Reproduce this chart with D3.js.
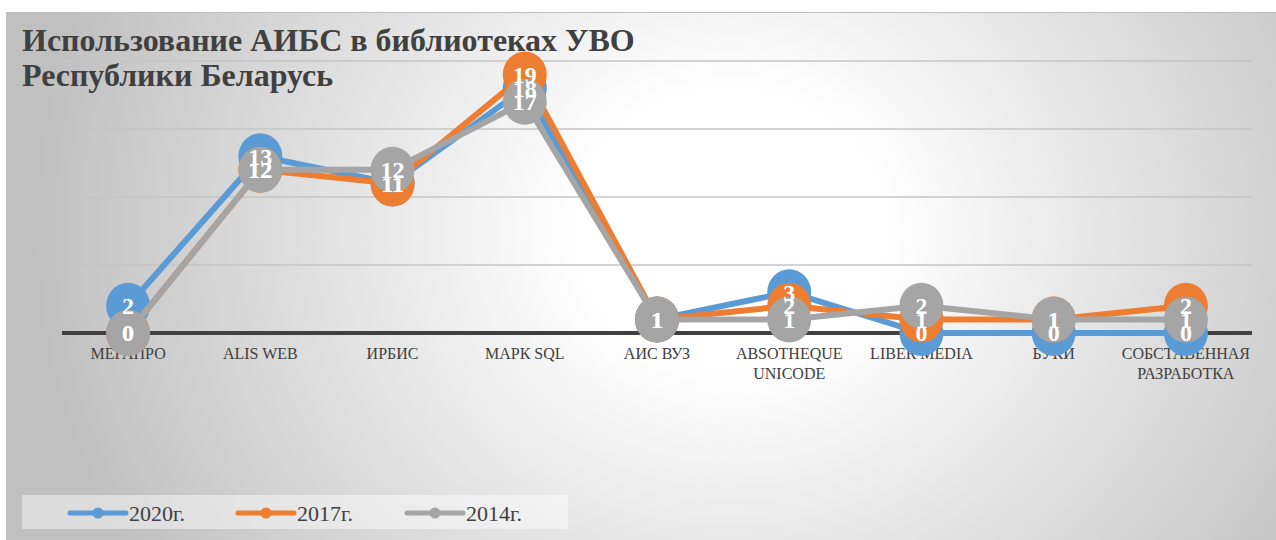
<!DOCTYPE html>
<html>
<head>
<meta charset="utf-8">
<script src="https://cdn.jsdelivr.net/npm/d3@7"></script>
<style>
    body { margin: 0; background: #ffffff; }
    svg { display: block; }
</style>
</head>
<body>
<script>
//chart data
var categories = ["МЕГАПРО", "ALIS WEB", "ИРБИС", "МАРК SQL", "АИС ВУЗ", "ABSOTHEQUE UNICODE", "LIBER MEDIA", "БУКИ", "СОБСТАВЕННАЯ РАЗРАБОТКА"];
var categoryLines = [["МЕГАПРО"], ["ALIS WEB"], ["ИРБИС"], ["МАРК SQL"], ["АИС ВУЗ"], ["ABSOTHEQUE", "UNICODE"], ["LIBER MEDIA"], ["БУКИ"], ["СОБСТАВЕННАЯ", "РАЗРАБОТКА"]];
var seriesNames = ["2020г.", "2017г.", "2014г."];
var values2020 = [2, 13, 11, 18, 1, 3, 0, 0, 0];
var values2017 = [0, 12, 11, 19, 1, 2, 1, 1, 2];
var values2014 = [0, 12, 12, 17, 1, 1, 2, 1, 1];
var seriesColors = ["#5b9bd5", "#ed7d31", "#a5a5a5"];
var gridTicks = [0, 5, 10, 15, 20];
var titleLines = ["Использование АИБС в библиотеках УВО", "Республики Беларусь"];

(function(){

    var width = 1276,
        height = 540;
    var serif = "'Liberation Serif', 'Times New Roman', serif";

    var svg = d3.select("body")
        .append("svg")
        .attr("width", width)
        .attr("height", height);

    //radial gray background like the office chart style
    var defs = svg.append("defs");
    var grad = defs.append("radialGradient")
        .attr("id", "bg")
        .attr("gradientUnits", "userSpaceOnUse")
        .attr("cx", 730).attr("cy", 230)
        .attr("r", 700)
        .attr("gradientTransform", "translate(730,230) scale(1,0.9) translate(-730,-230)");
    grad.append("stop").attr("offset", "0%").attr("stop-color", "#ffffff");
    grad.append("stop").attr("offset", "22%").attr("stop-color", "#ffffff");
    grad.append("stop").attr("offset", "100%").attr("stop-color", "#c0c0c0");

    svg.append("rect")
        .attr("x", 6).attr("y", 12)
        .attr("width", width - 6).attr("height", height - 12)
        .attr("fill", "url(#bg)");
    svg.append("line")
        .attr("x1", 6).attr("x2", width)
        .attr("y1", 12.5).attr("y2", 12.5)
        .attr("stroke", "#bdbdbd").attr("stroke-width", 1);

    //scales
    var x = d3.scalePoint()
        .domain(categories)
        .range([62, 1252])
        .padding(0.5);

    var y = d3.scaleLinear()
        .domain([0, 20])
        .range([333, 61]);

    //gridlines
    svg.selectAll(".grid")
        .data(gridTicks.filter(function(d){ return d > 0; }))
        .enter()
        .append("line")
        .attr("class", "grid")
        .attr("x1", 62).attr("x2", 1252)
        .attr("y1", function(d){ return y(d); })
        .attr("y2", function(d){ return y(d); })
        .attr("stroke", "#c4c4c4")
        .attr("stroke-width", 1.5);

    //title
    svg.append("text")
        .attr("x", 22)
        .attr("y", 51)
        .attr("font-family", serif)
        .attr("font-weight", "bold")
        .attr("font-size", 32)
        .attr("fill", "#404040")
        .selectAll("tspan")
        .data(titleLines)
        .enter()
        .append("tspan")
        .attr("x", 22)
        .attr("dy", function(d, i){ return i === 0 ? 0 : 35; })
        .text(function(d){ return d; });

    //baseline axis
    svg.append("line")
        .attr("x1", 62).attr("x2", 1252)
        .attr("y1", y(0)).attr("y2", y(0))
        .attr("stroke", "#404040")
        .attr("stroke-width", 4);

    //category labels
    var catLabels = svg.selectAll(".cat")
        .data(categories)
        .enter()
        .append("text")
        .attr("class", "cat")
        .attr("text-anchor", "middle")
        .attr("font-family", serif)
        .attr("font-size", 16)
        .attr("fill", "#404040")
        .attr("y", 359);
    catLabels.selectAll("tspan")
        .data(function(d, i){ return categoryLines[i].map(function(t){ return {t: t, c: d}; }); })
        .enter()
        .append("tspan")
        .attr("x", function(d){ return x(d.c); })
        .attr("dy", function(d, i){ return i === 0 ? 0 : 20; })
        .text(function(d){ return d.t; });

    //series
    var series = [values2020, values2017, values2014].map(function(vals, i){
        return {
            name: seriesNames[i],
            color: seriesColors[i],
            points: vals.map(function(v, j){ return {c: categories[j], v: v}; })
        };
    });

    var line = d3.line()
        .x(function(d){ return x(d.c); })
        .y(function(d){ return y(d.v); });

    series.forEach(function(s){
        var g = svg.append("g").attr("class", "series");
        g.append("path")
            .datum(s.points)
            .attr("d", line)
            .attr("fill", "none")
            .attr("stroke", s.color)
            .attr("stroke-width", 6)
            .attr("stroke-linejoin", "round");
        g.selectAll("ellipse")
            .data(s.points)
            .enter()
            .append("ellipse")
            .attr("cx", function(d){ return x(d.c); })
            .attr("cy", function(d){ return y(d.v); })
            .attr("rx", 22)
            .attr("ry", 23)
            .attr("fill", s.color);
    });

    //data labels on top of all markers
    series.forEach(function(s){
        svg.append("g").selectAll("text")
            .data(s.points)
            .enter()
            .append("text")
            .attr("x", function(d){ return x(d.c); })
            .attr("y", function(d){ return y(d.v); })
            .attr("dy", "0.35em")
            .attr("text-anchor", "middle")
            .attr("font-family", serif)
            .attr("font-weight", "bold")
            .attr("font-size", 24)
            .attr("fill", "#ffffff")
            .text(function(d){ return d.v; });
    });

    //legend
    svg.append("rect")
        .attr("x", 22).attr("y", 495)
        .attr("width", 546).attr("height", 34)
        .attr("fill", "#ffffff")
        .attr("fill-opacity", 0.45);

    var legendX = [70, 238, 407];
    var legend = svg.selectAll(".legend")
        .data(series)
        .enter()
        .append("g")
        .attr("class", "legend")
        .attr("transform", function(d, i){ return "translate(" + legendX[i] + ",513)"; });
    legend.append("line")
        .attr("x1", 0).attr("x2", 56)
        .attr("stroke", function(d){ return d.color; })
        .attr("stroke-width", 5)
        .attr("stroke-linecap", "round");
    legend.append("circle")
        .attr("cx", 28).attr("r", 5.5)
        .attr("fill", function(d){ return d.color; });
    legend.append("text")
        .attr("x", 59)
        .attr("dy", "0.35em")
        .attr("font-family", serif)
        .attr("font-size", 22)
        .attr("fill", "#404040")
        .text(function(d){ return d.name; });

})();
</script>
</body>
</html>
